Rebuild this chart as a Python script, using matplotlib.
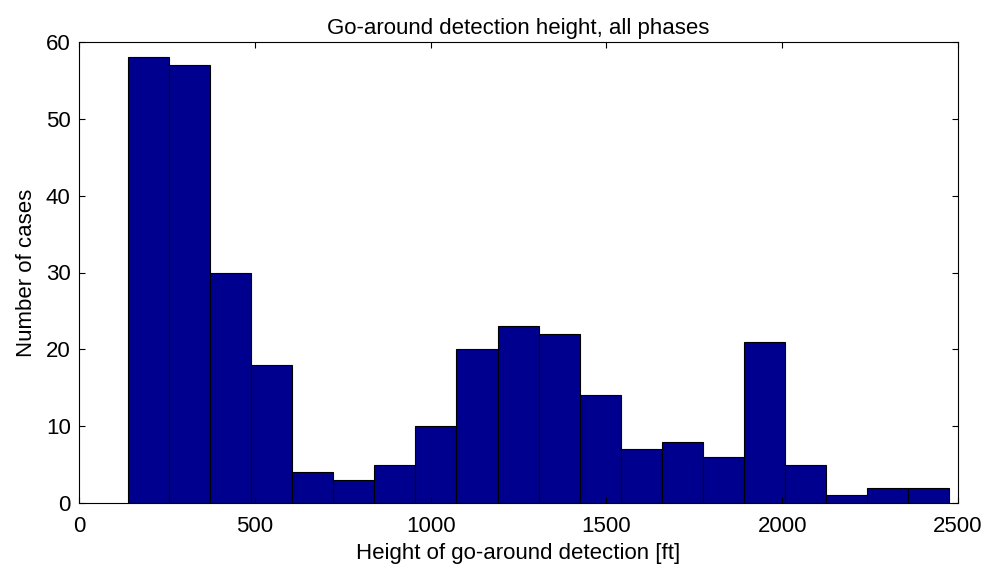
import numpy as np
import matplotlib
matplotlib.use('Agg')
import matplotlib.pyplot as plt

# Histogram data
bin_start = 140
bin_width = 116.7
counts = [58, 57, 30, 18, 4, 3, 5, 10, 20, 23, 22, 14, 7, 8, 6, 21, 5, 1, 2, 2]

x_ticks = [0, 500, 1000, 1500, 2000, 2500]
y_ticks = [0, 10, 20, 30, 40, 50, 60]

plt.rcParams['font.family'] = ['Liberation Sans', 'DejaVu Sans']
plt.rcParams['font.size'] = 16

fig = plt.figure(figsize=(9.9, 5.7), dpi=100)
ax = fig.add_axes([79 / 990, 1 - 503 / 570, (958 - 79) / 990, (503 - 42) / 570])

left_edges = bin_start + bin_width * np.arange(len(counts))
ax.bar(left_edges, counts, width=bin_width, align='edge',
       color='#00008F', edgecolor='black', linewidth=0.8)

ax.set_xlim(0, 2500)
ax.set_ylim(0, 60)
ax.set_xticks(x_ticks)
ax.set_yticks(y_ticks)
ax.tick_params(direction='in', top=True, right=True, length=4, width=0.8, pad=6)
ax.tick_params(axis='x', pad=9)
for s in ax.spines.values():
    s.set_linewidth(0.8)

ax.set_title('Go-around detection height, all phases', fontsize=16, pad=6)
ax.set_xlabel('Height of go-around detection [ft]', labelpad=5)
ax.set_ylabel('Number of cases', labelpad=6)

plt.savefig('out.png', dpi=100)
